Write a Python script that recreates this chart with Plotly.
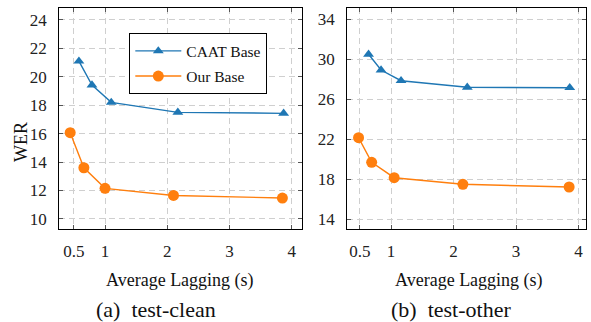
import plotly.graph_objects as go

# Average lagging (s) and WER for each system and test set
clean_caat_al = [0.58, 0.79, 1.10, 2.17, 3.87]
clean_caat_wer = [21.1, 19.42, 18.2, 17.5, 17.43]
clean_ours_al = [0.44, 0.66, 1.00, 2.10, 3.85]
clean_ours_wer = [16.07, 13.6, 12.15, 11.65, 11.47]

other_caat_al = [0.64, 0.84, 1.16, 2.22, 3.86]
other_caat_wer = [30.47, 28.9, 27.83, 27.17, 27.13]
other_ours_al = [0.48, 0.69, 1.05, 2.15, 3.85]
other_ours_wer = [22.13, 19.67, 18.13, 17.47, 17.2]

x_ticks = [0.5, 1, 2, 3, 4]
clean_y_ticks = [10, 12, 14, 16, 18, 20, 22, 24]
other_y_ticks = [14, 18, 22, 26, 30, 34]

BLUE = "#1f77b4"
ORANGE = "#ff7f0e"
FONT = "Liberation Serif, Times New Roman, DejaVu Serif, serif"

fig = go.Figure()


def add_series(x, y, name, color, symbol, size, xa, ya, show):
    fig.add_trace(go.Scatter(
        x=x, y=y, name=name, mode="lines+markers",
        line=dict(color=color, width=1.4),
        marker=dict(symbol=symbol, size=size, color=color),
        xaxis=xa, yaxis=ya, showlegend=show, legendgroup=name,
    ))


add_series(clean_caat_al, clean_caat_wer, "CAAT Base", BLUE, "triangle-up", 9.5, "x", "y", True)
add_series(clean_ours_al, clean_ours_wer, "Our Base", ORANGE, "circle", 11, "x", "y", True)
add_series(other_caat_al, other_caat_wer, "CAAT Base", BLUE, "triangle-up", 9.5, "x2", "y2", False)
add_series(other_ours_al, other_ours_wer, "Our Base", ORANGE, "circle", 11, "x2", "y2", False)

W, H = 591, 322
y_dom = [1 - 229.3 / H, 1 - 8.3 / H]

common_axis = dict(
    showline=True, linecolor="black", linewidth=1.3, mirror="ticks",
    ticks="inside", ticklen=4, tickcolor="#555555", tickwidth=1,
    showgrid=True, gridcolor="#cfcfcf", gridwidth=1, griddash="6px,4px",
    zeroline=False, tickfont=dict(family=FONT, size=17, color="#222222"),
)

fig.update_layout(
    width=W, height=H,
    margin=dict(l=0, r=0, t=0, b=0),
    paper_bgcolor="white", plot_bgcolor="white",
    xaxis=dict(domain=[59.3 / W, 302.3 / W], range=[0.265, 4.17],
               tickvals=x_ticks, ticktext=["0.5", "1", "2", "3", "4"],
               anchor="y", ticklabelstandoff=6, **common_axis),
    yaxis=dict(domain=y_dom, range=[9.27, 24.82], tickvals=clean_y_ticks,
               anchor="x", ticklabelstandoff=8, **common_axis),
    xaxis2=dict(domain=[347.3 / W, 586 / W], range=[0.30, 4.12],
                tickvals=x_ticks, ticktext=["0.5", "1", "2", "3", "4"],
                anchor="y2", ticklabelstandoff=6, **common_axis),
    yaxis2=dict(domain=y_dom, range=[12.97, 35.07], tickvals=other_y_ticks,
                anchor="x2", ticklabelstandoff=8, **common_axis),
    legend=dict(x=129 / W, y=1 - 33 / H, xanchor="left", yanchor="top",
                bordercolor="black", borderwidth=1.3, bgcolor="white",
                font=dict(family=FONT, size=15.5, color="#111111"),
                itemwidth=46, tracegroupgap=2),
    font=dict(family=FONT, color="#111111"),
)

annots = [
    dict(text="WER", x=21 / W, y=1 - 142 / H, textangle=-90, size=18),
    dict(text="Average Lagging (s)", x=180 / W, y=1 - 280 / H, textangle=0, size=18),
    dict(text="Average Lagging (s)", x=468.5 / W, y=1 - 280 / H, textangle=0, size=18),
    dict(text="(a)\u2002test-clean", x=156 / W, y=1 - 309 / H, textangle=0, size=22),
    dict(text="(b)\u2002test-other", x=451 / W, y=1 - 309 / H, textangle=0, size=22),
]
for a in annots:
    fig.add_annotation(text=a["text"], x=a["x"], y=a["y"], xref="paper", yref="paper",
                       xanchor="center", yanchor="middle", showarrow=False,
                       textangle=a["textangle"],
                       font=dict(family=FONT, size=a["size"], color="#111111"))

fig.write_html("out.html")
